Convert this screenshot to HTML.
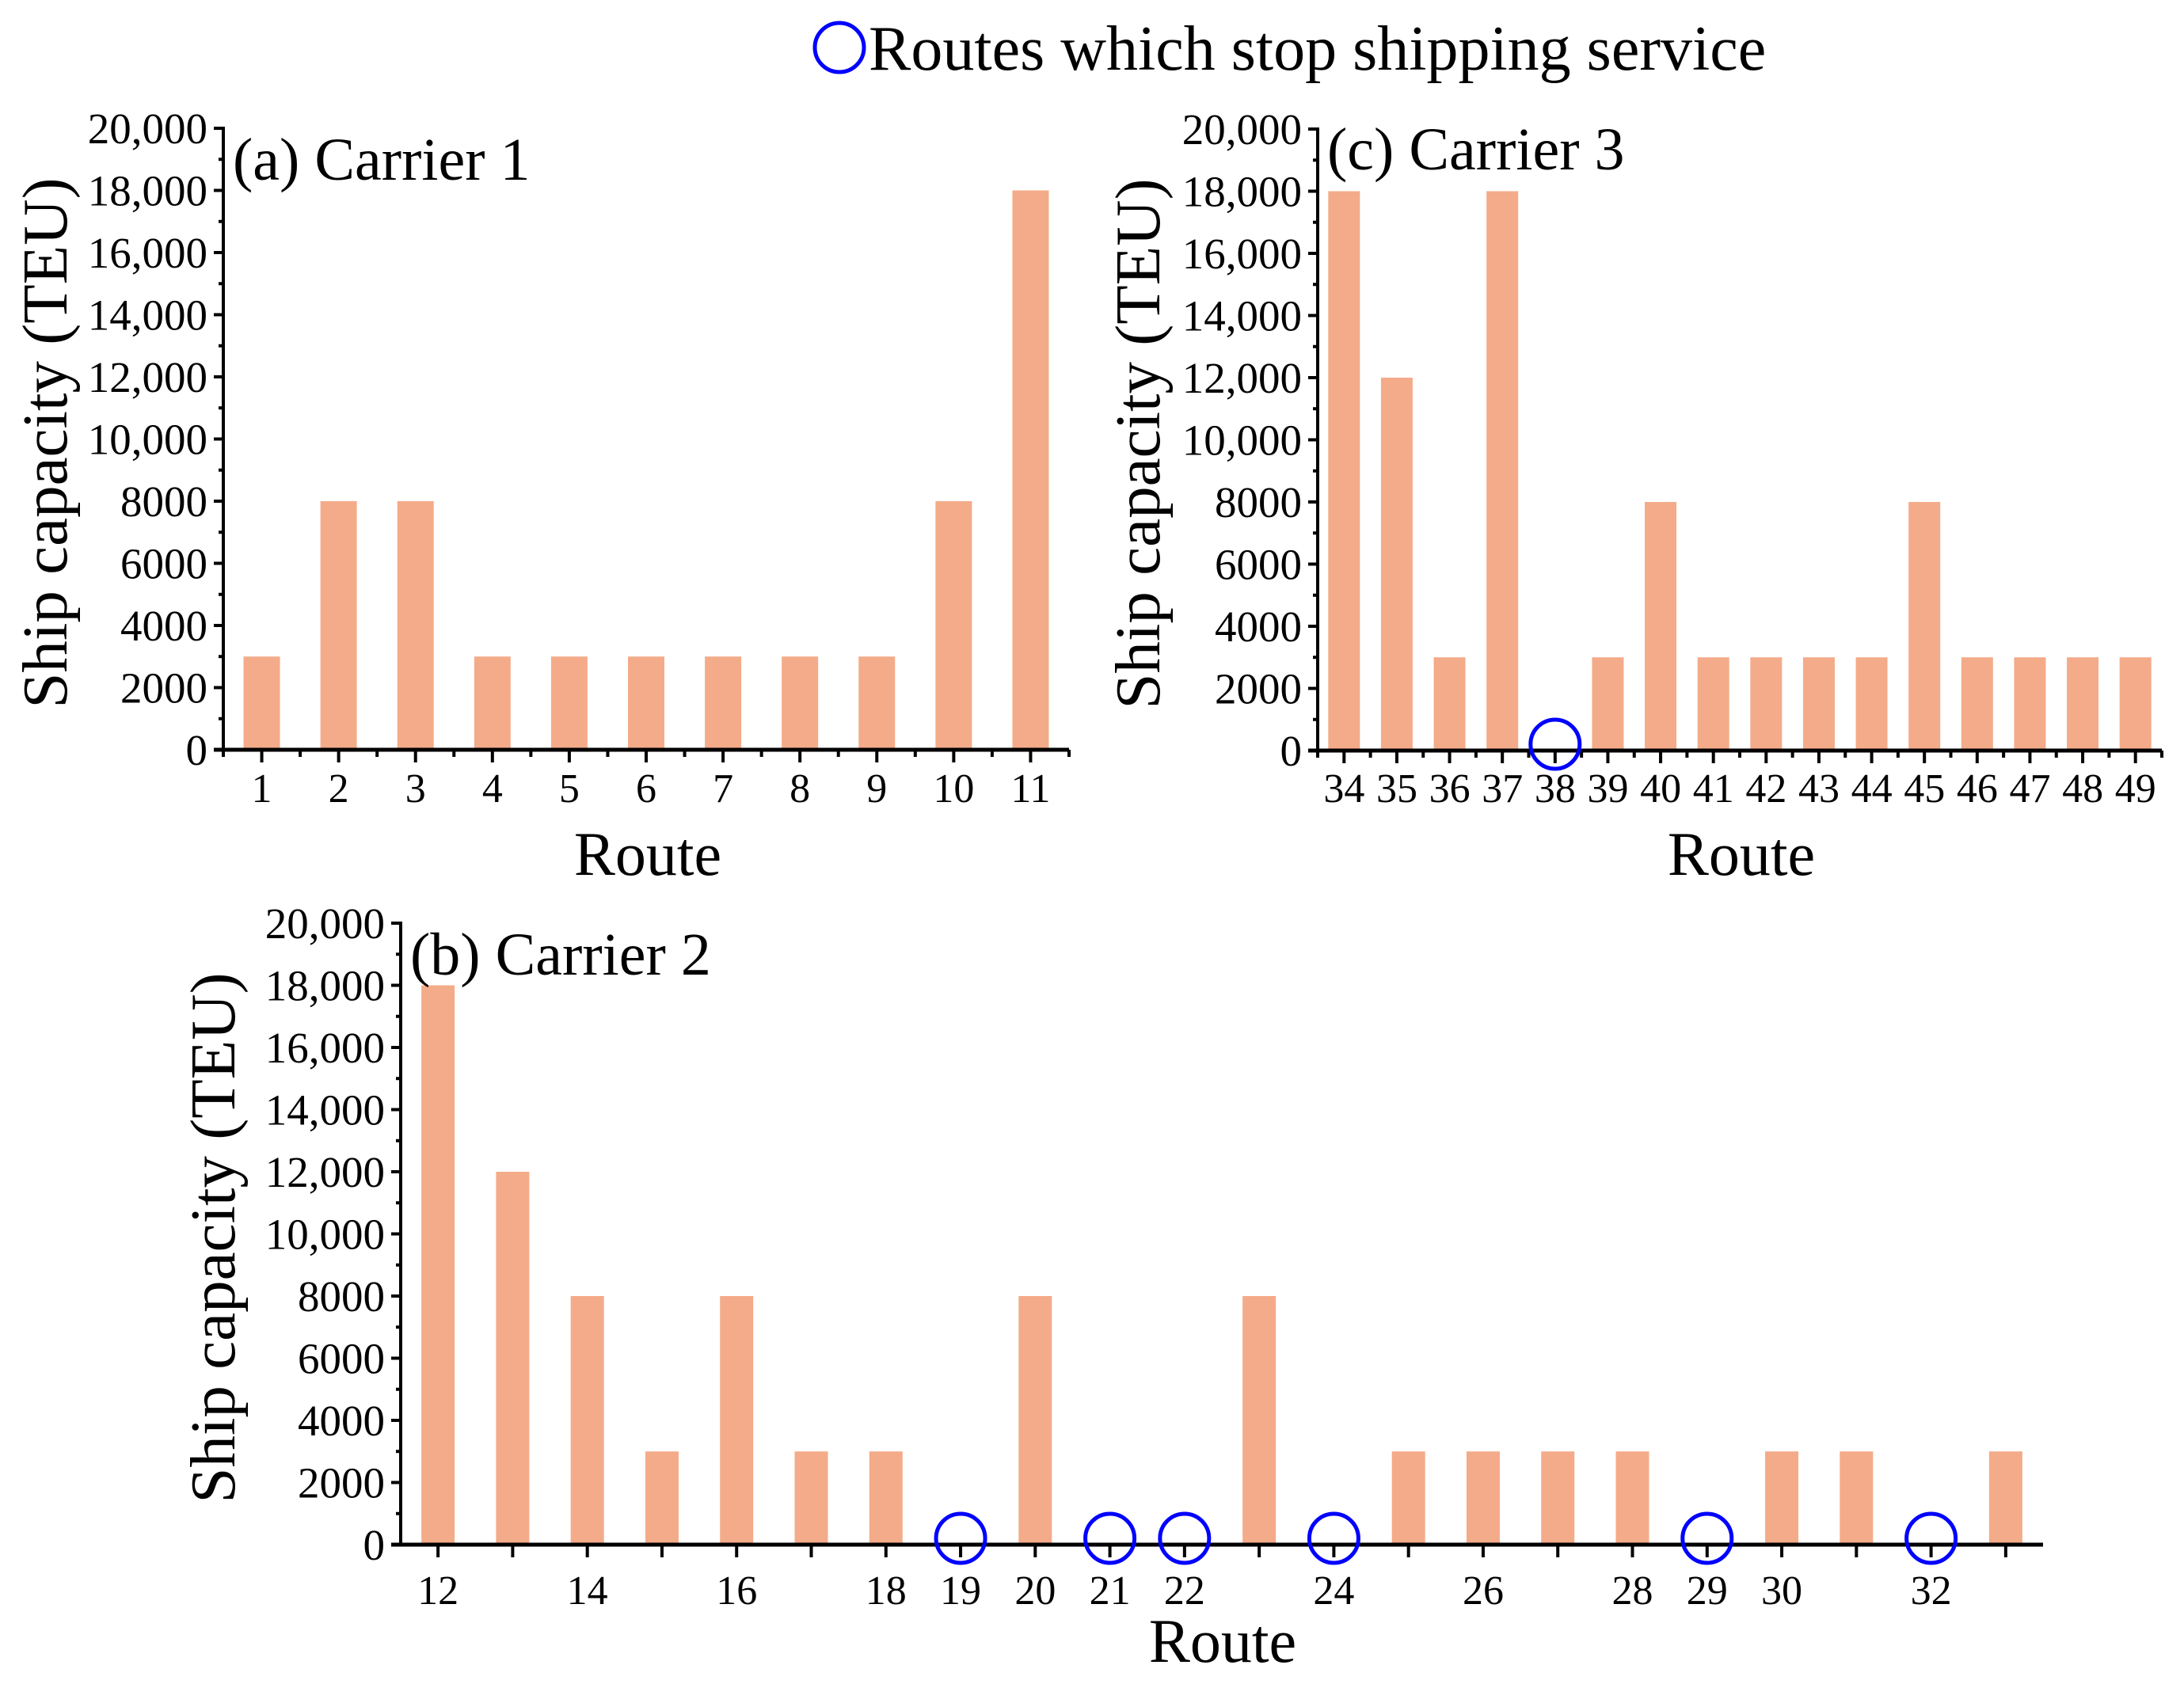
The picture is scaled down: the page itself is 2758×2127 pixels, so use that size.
<!DOCTYPE html>
<html><head><meta charset="utf-8"><style>
html,body{margin:0;padding:0;background:#fff;}
svg{display:block;font-family:"Liberation Serif","Times New Roman",serif;}
</style></head><body>
<svg id="chart" width="2758" height="2127" viewBox="0 0 2758 2127" xmlns="http://www.w3.org/2000/svg">
<g>
<circle cx="1060" cy="60" r="31" fill="none" stroke="#0000ff" stroke-width="5"/>
<text x="1097" y="88" font-size="80">Routes which stop shipping service</text>
</g>
</svg>
<script>
const catsA = ["1","2","3","4","5","6","7","8","9","10","11"];
const valsA = [3000,8000,8000,3000,3000,3000,3000,3000,3000,8000,18000];
const stopA = [];
const labelsA = ["1","2","3","4","5","6","7","8","9","10","11"];

const catsB = ["12","13","14","15","16","17","18","19","20","21","22","23","24","25","26","27","28","29","30","31","32","33"];
const valsB = [18000,12000,8000,3000,8000,3000,3000,0,8000,0,0,8000,0,3000,3000,3000,3000,0,3000,3000,0,3000];
const stopB = ["19","21","22","24","29","32"];
const labelsB = ["12","14","16","18","19","20","21","22","24","26","28","29","30","32"];

const catsC = ["34","35","36","37","38","39","40","41","42","43","44","45","46","47","48","49"];
const valsC = [18000,12000,3000,18000,0,3000,8000,3000,3000,3000,3000,8000,3000,3000,3000,3000];
const stopC = ["38"];
const labelsC = ["34","35","36","37","38","39","40","41","42","43","44","45","46","47","48","49"];

const yTicks = [0,2000,4000,6000,8000,10000,12000,14000,16000,18000,20000];
const yTickLabels = ["0","2000","4000","6000","8000","10,000","12,000","14,000","16,000","18,000","20,000"];
const yMax = 20000;

const NS = "http://www.w3.org/2000/svg";
const svg = document.getElementById("chart");
function mk(tag, attrs, parent){
  const e = document.createElementNS(NS, tag);
  for (const k in attrs) e.setAttribute(k, attrs[k]);
  (parent||svg).appendChild(e);
  return e;
}

function panel(cfg){
  const g = mk("g", {});
  
  
  const band = (cfg.x1 - cfg.x0) / cfg.cats.length;
  const xs = i => cfg.x0 + band * (i + 0.5);
  const ys = v => cfg.y0 - (v / yMax) * (cfg.y0 - cfg.yTop);
  cfg.vals.forEach((v, i) => {
    if (v <= 0) return;
    const r = mk("rect", {x: xs(i) - cfg.bw/2, y: ys(v), width: cfg.bw, height: cfg.y0 - ys(v), fill: "#F4AB89"}, g);
    
    
  });
  const ya = mk("line", {x1: cfg.x0, y1: cfg.yTop - 2, x2: cfg.x0, y2: cfg.y0 + 2, stroke: "#000", "stroke-width": 4}, g);
  
  
  yTicks.forEach((t, i) => {
    const y = ys(t);
    mk("line", {x1: cfg.x0 - 12, y1: y, x2: cfg.x0, y2: y, stroke: "#000", "stroke-width": 4}, g);
    if (i < yTicks.length - 1) {
      const ym = ys(t + 1000);
      mk("line", {x1: cfg.x0 - 6, y1: ym, x2: cfg.x0, y2: ym, stroke: "#000", "stroke-width": 4}, g);
    }
    const tx = mk("text", {x: cfg.x0 - 20, y: y + 19, "font-size": 55, "text-anchor": "end"}, g);
    tx.textContent = yTickLabels[i];
    
    
  });
  const xa = mk("line", {x1: cfg.x0 - 12, y1: cfg.y0, x2: cfg.x1, y2: cfg.y0, stroke: "#000", "stroke-width": 5}, g);
  
  
  cfg.cats.forEach((c, i) => {
    mk("line", {x1: xs(i), y1: cfg.y0, x2: xs(i), y2: cfg.y0 + 16, stroke: "#000", "stroke-width": 4}, g);
    if (cfg.minor) {
      const xb = cfg.x0 + band * (i + 1);
      mk("line", {x1: xb, y1: cfg.y0, x2: xb, y2: cfg.y0 + 9, stroke: "#000", "stroke-width": 4}, g);
    }
    if (cfg.labels.indexOf(c) >= 0) {
      const tx = mk("text", {x: xs(i), y: cfg.labY, "font-size": 52, "text-anchor": "middle"}, g);
      tx.textContent = c;
      
      
    }
  });
  if (cfg.minor) mk("line", {x1: cfg.x0, y1: cfg.y0, x2: cfg.x0, y2: cfg.y0 + 9, stroke: "#000", "stroke-width": 4}, g);
  cfg.stops.forEach(s => {
    const i = cfg.cats.indexOf(s);
    const c = mk("circle", {cx: xs(i), cy: cfg.y0 - 8, r: 31, fill: "none", stroke: "#0000ff", "stroke-width": 5}, g);
    
    
  });
  const pt = mk("text", {x: cfg.x0 + 12, y: cfg.yTop + 65 + cfg.titleDy, "font-size": 76}, g);
  pt.textContent = cfg.title;
  
  
  const xt = mk("text", {x: cfg.xTitleX, y: cfg.xTitleY, "font-size": 78, "text-anchor": "middle"}, g);
  xt.textContent = "Route";
  
  
  const cy = (cfg.y0 + cfg.yTop) / 2 + 5;
  const yt = mk("text", {x: 0, y: 0, "font-size": 81, "text-anchor": "middle", transform: "translate(" + (cfg.yTitleX) + "," + cy + ") rotate(-90)"}, g);
  yt.textContent = "Ship capacity (TEU)";
  
  
}

panel({name: "panel-a-carrier-1", cats: catsA, vals: valsA, stops: stopA, labels: labelsA, x0: 282, x1: 1350, y0: 947, yTop: 162, bw: 46, minor: true, labY: 1013, title: "(a) Carrier 1", titleDy: 0, xTitleX: 818, xTitleY: 1105, yTitleX: 84});
panel({name: "panel-b-carrier-2", cats: catsB, vals: valsB, stops: stopB, labels: labelsB, x0: 506, x1: 2580, y0: 1951, yTop: 1166, bw: 42, minor: false, labY: 2026, title: "(b) Carrier 2", titleDy: 0, xTitleX: 1544, xTitleY: 2099, yTitleX: 296});
panel({name: "panel-c-carrier-3", cats: catsC, vals: valsC, stops: stopC, labels: labelsC, x0: 1664, x1: 2730, y0: 948, yTop: 163, bw: 40, minor: true, labY: 1013, title: "(c) Carrier 3", titleDy: -14, xTitleX: 2199, xTitleY: 1105, yTitleX: 1464});
</script>
</body></html>
